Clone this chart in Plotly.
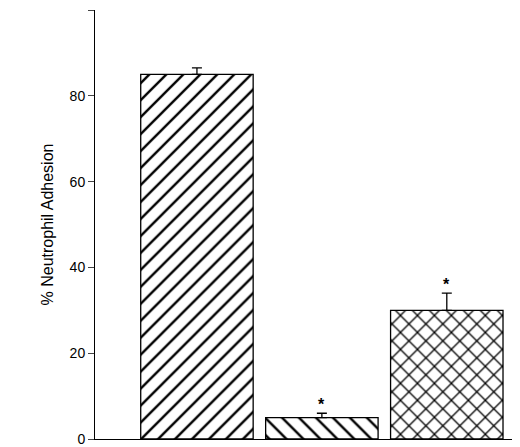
import plotly.graph_objects as go

categories = [0, 1, 2]
values = [85, 5, 30]
errors = [1.5, 1.0, 4.0]
patterns = ["/", "\\", "x"]
stars = ["", "*", "*"]

fig = go.Figure()
fig.add_trace(go.Bar(
    x=categories, y=values, width=0.9,
    marker=dict(color="white", line=dict(color="black", width=1.3),
                pattern=dict(shape=patterns, fgcolor="black", bgcolor="white", size=12,
                             solidity=0.2, fgopacity=1)),
    error_y=dict(type="data", array=errors, arrayminus=[0, 0, 0], color="black", thickness=1.3, width=5),
))
for c, v, e, s in zip(categories, values, errors, stars):
    if s:
        fig.add_annotation(x=c, y=v + e, text="<b>" + s + "</b>", showarrow=False, yanchor="bottom",
                           yshift=-2, font=dict(size=16, color="black"))

fig.update_layout(
    width=520, height=447, margin=dict(l=87, r=0, t=2, b=16),
    plot_bgcolor="white", paper_bgcolor="white", showlegend=False,
    font=dict(family="Liberation Sans, Arial", size=14, color="black"),
    xaxis=dict(range=[-0.816, 2.65], showticklabels=False, ticks="", showgrid=False,
               showline=True, linecolor="black", linewidth=1, zeroline=False),
    yaxis=dict(range=[0, 100], tickvals=[0, 20, 40, 60, 80, 100], ticks="outside", ticklen=6,
               showline=True, linecolor="black", linewidth=1, showgrid=False, zeroline=False,
               title=dict(text="% Neutrophil Adhesion", font=dict(size=16), standoff=12)),
)
fig.write_html("out.html")
